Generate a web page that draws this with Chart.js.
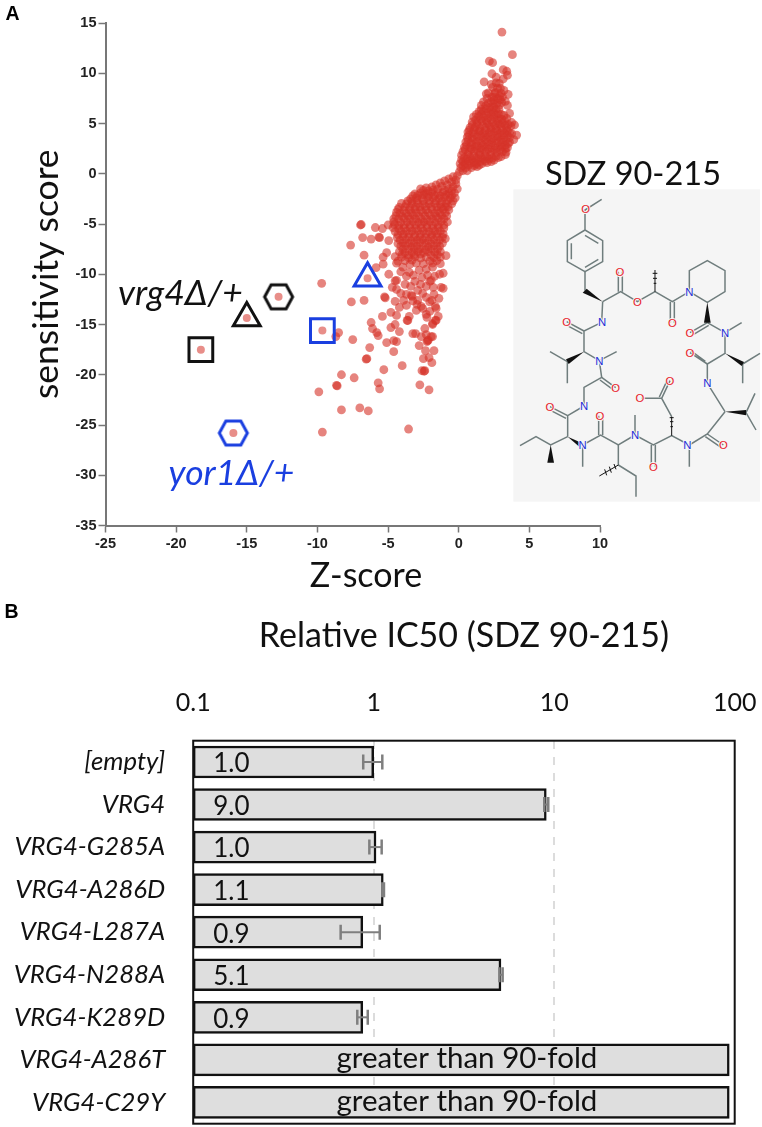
<!DOCTYPE html>
<html>
<head>
<meta charset="utf-8">
<script src="https://cdn.jsdelivr.net/npm/chart.js@4"></script>
<style>
  html, body { margin: 0; padding: 0; background: #fff; }
  #page { position: relative; width: 762px; height: 1127px; overflow: hidden; }
  canvas { position: absolute; left: 0; }
  #canvasA { top: 0; filter: blur(0.5px); }
  #canvasB { top: 600px; }
  .lbl { position: absolute; white-space: nowrap; transform: translate(-50%, -50%); font-family: Lato, sans-serif; color: #111; line-height: 1; }
  .panel { font-family: "Liberation Sans", sans-serif; font-weight: bold; font-size: 19.5px; color: #000; }
  svg { position: absolute; left: 500px; top: 150px; }
  svg text { font-family: "Liberation Sans", sans-serif; font-size: 34px; text-anchor: middle; dominant-baseline: central; paint-order: stroke; stroke: #f5f5f5; stroke-width: 6px; }
</style>
</head>
<body>
<div id="page">
  <canvas id="canvasA" width="762" height="600"></canvas>
  <canvas id="canvasB" width="762" height="527"></canvas>

  <div class="lbl panel" style="left:12.5px;top:14px">A</div>
  <div class="lbl panel" style="left:11.5px;top:612px">B</div>
  <div class="lbl" style="left:366px;top:574px;font-size:34px">Z-score</div>
  <div class="lbl" style="left:180.5px;top:292px;font-size:35.5px;font-style:italic">vrg4Δ/+</div>
  <div class="lbl" style="left:231.5px;top:472px;font-size:35.5px;font-style:italic;color:#1a3fe0">yor1Δ/+</div>
  <div class="lbl" style="left:633px;top:173px;font-size:32.5px">SDZ 90-215</div>

  <!-- structure inset -->
  <svg width="262" height="360" viewBox="0 0 786 1080">
    <rect x="40" y="118" width="740" height="937" fill="#f5f5f5"/>
    <g fill="none" stroke="#6f7d7d" stroke-width="4.5">
      <path d="M305 148L255 180L255 240L308 272L308 335L255 365L202 335L202 272L255 240M255 256L295 280M295 328L255 352M214 328L214 280"/>
      <path d="M255 365L255 422M308 455L362 425L412 455L465 425L517 455L568 425L568 362L622 332L675 362L675 425L622 457L568 425"/>
      <path d="M355 425L355 365M367 425L367 365M511 455L511 518M523 455L523 518"/>
      <path d="M622 518L570 548M626 526L576 556M622 518L675 548L725 518M675 548L675 610L622 642L622 700L675 785"/>
      <path d="M728 642L780 610M728 642L728 700M622 642L570 608M616 634L570 600"/>
      <path d="M738 788L765 730M738 788L768 840M675 785L622 852L568 885L568 950M622 852L670 885M616 860L664 893"/>
      <path d="M568 885L515 857L460 885L405 855L405 795M515 800L485 745L425 745M485 745L510 692M478 741L503 688"/>
      <path d="M454 885L454 950M466 885L466 950M405 855L355 885L302 855L248 885L248 950M296 855L296 797M308 855L308 797"/>
      <path d="M355 885L355 945L408 978L408 1040M203 860L203 797L252 768L252 712L305 682L298 632L350 605M298 632L252 605L252 543L305 517L308 455"/>
      <path d="M203 797L150 770M198 805L146 778M305 682L347 713M300 690L342 721M202 635L150 605M202 635L202 700M252 543L200 515M247 551L195 523"/>
      <path d="M203 860L152 885L108 860L60 887"/>
    </g>
    <g fill="#111">
      <polygon points="308,455 248,428 260,416"/>
      <polygon points="622,457 612,518 632,518"/>
      <polygon points="675,610 725,648 732,636"/>
      <polygon points="675,785 738,780 738,796"/>
      <polygon points="252,605 198,628 206,642"/>
      <polygon points="203,860 244,878 238,890"/>
      <polygon points="152,885 142,938 162,938"/>
    </g>
    <g stroke="#111" stroke-width="3">
      <path d="M465 425L465 360M459 385L471 385M458 370L472 370M461 400L469 400"/>
      <path d="M515 857L515 800M510 815L520 815M511 830L519 830M509 803L521 803"/>
      <path d="M355 945L298 978M342 942L348 958M328 950L334 968M314 958L320 976"/>
    </g>
    <g fill="#e8202a">
      <text x="257" y="178">O</text><text x="360" y="365">O</text><text x="412" y="455">O</text><text x="517" y="518">O</text>
      <text x="570" y="548">O</text><text x="570" y="608">O</text><text x="347" y="713">O</text><text x="200" y="515">O</text>
      <text x="510" y="692">O</text><text x="420" y="745">O</text><text x="150" y="770">O</text><text x="300" y="797">O</text>
      <text x="670" y="885">O</text><text x="460" y="950">O</text>
    </g>
    <g fill="#1f2fd8">
      <text x="306" y="517">N</text><text x="568" y="425">N</text><text x="675" y="548">N</text><text x="298" y="632">N</text>
      <text x="622" y="700">N</text><text x="252" y="768">N</text><text x="405" y="855">N</text><text x="248" y="885">N</text><text x="562" y="885">N</text>
    </g>
  </svg>
</div>

<script>
// panel A : sensitivity score vs Z-score, [z, score]
var zTicks = [-25, -20, -15, -10, -5, 0, 5, 10];
var scoreTicks = [15, 10, 5, 0, -5, -10, -15, -20, -25, -30, -35];

var upperCloud = [
  [3.06,14.1],[3.8,11.85],[2.17,11.2],[2.4,11.05],[3.15,10.35],[3.4,10.2],[2.35,9.95],[2.65,9.6],[3.15,9.45],[3.45,9.8],[1.8,9.15],[2.87,9.0],[2.75,8.5],[2.1,8.05],[3.0,8.0],[3.5,7.9],
  [2.5,7.65],[2.75,7.5],[3.1,7.65],[2.6,8.1],[2.3,7.2],[2.7,7.0],[3.05,7.1],[3.45,6.8],[3.6,6.0],[3.95,4.85],[4.1,3.85],[3.6,3.15],[3.35,2.15],
  [1.6,6.8],[1.9,6.75],[2.2,6.6],[2.5,6.65],[2.85,6.4],[1.45,6.2],[1.75,6.25],[2.1,6.1],[2.45,6.15],[2.8,5.95],[3.2,5.8],
  [1.05,5.65],[1.4,5.7],[1.75,5.6],[2.1,5.55],[2.5,5.6],[2.85,5.5],[3.25,5.3],[3.4,5.5],
  [0.95,5.15],[1.3,5.1],[1.65,5.2],[2.0,5.05],[2.4,5.1],[2.75,5.0],[3.1,5.05],[3.5,4.9],
  [0.8,4.6],[1.15,4.65],[1.5,4.55],[1.9,4.6],[2.25,4.6],[2.65,4.5],[3.0,4.6],[3.4,4.55],[3.7,4.75],
  [0.65,4.15],[1.0,4.1],[1.4,4.2],[1.75,4.05],[2.15,4.1],[2.5,4.15],[2.9,4.05],[3.25,4.1],[3.6,4.1],
  [0.6,3.65],[0.95,3.6],[1.3,3.7],[1.7,3.6],[2.05,3.65],[2.45,3.55],[2.8,3.65],[3.2,3.6],[3.6,3.6],
  [0.5,3.15],[0.85,3.1],[1.25,3.15],[1.6,3.05],[2.0,3.15],[2.35,3.1],[2.75,3.1],[3.1,3.15],[3.5,3.0],
  [0.4,2.65],[0.8,2.6],[1.15,2.65],[1.55,2.55],[1.9,2.65],[2.3,2.6],[2.7,2.55],[3.05,2.65],[3.3,2.5],
  [0.3,2.2],[0.7,2.15],[1.1,2.25],[1.5,2.1],[1.9,2.2],[2.3,2.15],[2.7,2.1],[3.1,2.2],
  [0.2,1.85],[0.65,1.9],[1.05,1.8],[1.45,1.9],[1.85,1.8],[2.25,1.9],[2.65,1.75],[3.0,1.7],
  [0.2,1.4],[0.55,1.45],[0.95,1.4],[1.35,1.5],[1.75,1.4],[2.15,1.45],[2.5,1.35],
  [0.1,1.0],[0.45,1.0],[0.85,1.05],[1.25,1.0],[1.65,1.0],[2.0,1.1],
  [0.15,0.6],[0.5,0.6],[0.9,0.6],[1.3,0.7],[0.05,0.2],[0.3,0.3],[0.6,0.3]
];

// second pass over the same body, the dots overlap until it reads solid
var upperFill = [
  [2.4,8.6],[2.95,8.5],[2.55,8.0],[3.2,8.3],[2.35,7.6],[2.9,7.75],[2.0,7.5],[2.5,7.3],[2.95,7.35],[1.75,7.15],[2.1,7.0],[2.45,6.95],[2.85,6.8],[1.95,7.95],[2.65,9.05],[2.3,8.9],[3.3,7.2],
  [3.75,4.0],[3.9,3.4],[3.45,2.6],[3.3,1.9],[3.75,5.1],
  [1.6,6.4],[1.95,6.45],[2.3,6.35],[2.65,6.4],[1.25,5.9],[1.6,5.95],[1.95,5.85],[2.3,5.9],[2.65,5.85],[3.0,5.9],
  [1.2,5.35],[1.55,5.4],[1.95,5.3],[2.3,5.35],[2.7,5.3],[3.05,5.4],[0.95,4.85],[1.3,4.9],[1.7,4.8],[2.15,4.85],[2.55,4.8],[2.9,4.9],[3.3,4.8],
  [0.75,4.35],[1.1,4.4],[1.5,4.3],[1.9,4.35],[2.3,4.4],[2.7,4.3],[3.1,4.35],[3.45,4.3],[0.7,3.85],[1.15,3.9],[1.55,3.8],[1.9,3.85],[2.3,3.9],[2.7,3.8],[3.05,3.85],[3.45,3.85],
  [0.65,3.35],[1.05,3.4],[1.45,3.3],[1.85,3.35],[2.25,3.4],[2.6,3.3],[3.0,3.35],[3.35,3.35],[0.55,2.85],[0.95,2.9],[1.35,2.8],[1.75,2.85],[2.15,2.9],[2.55,2.8],[2.95,2.85],[3.3,2.85],
  [0.45,2.4],[0.9,2.45],[1.3,2.35],[1.7,2.4],[2.1,2.45],[2.5,2.35],[2.9,2.4],[0.4,1.6],[0.8,1.65],[1.2,1.55],[1.6,1.6],[2.0,1.65],[2.4,1.55],[2.8,1.6],
  [0.3,1.2],[0.7,1.25],[1.1,1.15],[1.5,1.2],[1.9,1.25],[2.3,1.2],[0.3,0.8],[0.7,0.85],[1.1,0.8],[1.45,0.85]
];

var lowerCloud = [
  [-0.1,-0.2],[-0.4,-0.3],[-0.7,-0.5],[-0.2,-0.6],[-1.0,-0.7],[-0.5,-0.8],[-1.3,-0.9],[-0.2,-1.0],[-0.8,-1.1],[-1.6,-1.1],[-1.2,-1.25],[-0.4,-1.3],[-1.9,-1.3],[-2.3,-1.4],[-0.1,-1.5],[-0.7,-1.5],[-1.5,-1.55],[-2.7,-1.5],
  [-0.3,-1.9],[-0.7,-1.95],[-1.1,-1.85],[-1.5,-1.95],[-1.9,-1.85],[-2.3,-1.95],[-2.7,-1.9],[-3.1,-2.0],
  [-0.25,-2.4],[-0.6,-2.45],[-1.0,-2.35],[-1.4,-2.45],[-1.8,-2.4],[-2.2,-2.35],[-2.6,-2.45],[-3.0,-2.4],[-3.4,-2.5],
  [-0.5,-3.0],[-0.9,-2.95],[-1.3,-3.05],[-1.7,-2.95],[-2.1,-3.0],[-2.5,-3.05],[-2.9,-2.95],[-3.3,-3.0],[-3.7,-3.0],[-4.05,-2.95],
  [-0.7,-3.6],[-1.1,-3.55],[-1.5,-3.65],[-1.9,-3.55],[-2.3,-3.6],[-2.7,-3.65],[-3.1,-3.55],[-3.5,-3.6],[-3.9,-3.65],[-4.3,-3.55],
  [-0.85,-4.2],[-1.2,-4.15],[-1.6,-4.25],[-2.0,-4.15],[-2.4,-4.2],[-2.8,-4.25],[-3.2,-4.15],[-3.6,-4.2],[-4.0,-4.25],[-4.45,-4.2],
  [-0.8,-4.8],[-1.25,-4.75],[-1.65,-4.85],[-2.05,-4.75],[-2.45,-4.8],[-2.85,-4.85],[-3.25,-4.75],[-3.65,-4.8],[-4.1,-4.85],[-4.6,-4.8],
  [-1.05,-5.4],[-1.45,-5.35],[-1.85,-5.45],[-2.25,-5.35],[-2.65,-5.4],[-3.05,-5.45],[-3.45,-5.35],[-3.85,-5.4],[-4.25,-5.45],[-4.65,-5.35],
  [-1.1,-6.0],[-1.5,-5.95],[-1.9,-6.05],[-2.3,-5.95],[-2.7,-6.0],[-3.1,-6.05],[-3.5,-5.95],[-3.9,-6.0],[-4.3,-6.05],
  [-0.95,-6.45],[-1.35,-6.6],[-1.75,-6.55],[-2.15,-6.65],[-2.55,-6.55],[-2.95,-6.6],[-3.35,-6.65],[-3.75,-6.55],[-4.15,-6.6],
  [-1.35,-7.2],[-1.75,-7.15],[-2.15,-7.25],[-2.55,-7.15],[-2.95,-7.2],[-3.35,-7.25],[-3.75,-7.15],[-4.1,-7.2],
  [-1.3,-7.75],[-1.7,-7.8],[-2.15,-7.75],[-2.5,-7.85],[-2.9,-7.75],[-3.3,-7.8],[-3.8,-7.85],[-4.2,-7.75],
  [-0.9,-8.15],[-1.3,-8.3],[-1.75,-8.35],[-2.3,-8.3],[-2.7,-8.4],[-3.1,-8.25],[-3.55,-8.35],[-4.05,-8.3],[-4.5,-8.25],
  [-1.3,-8.95],[-1.85,-8.9],[-2.5,-8.95],[-3.0,-8.9],[-3.45,-9.0],[-4.4,-8.9],[-3.95,-9.3],[-3.5,-9.8],[-2.8,-9.6],[-1.85,-9.3],[-1.1,-9.9],[-2.3,-9.5],[-4.1,-9.75],
  [-0.5,-1.7],[-1.3,-2.2],[-2.05,-2.7],[-2.75,-3.3],[-1.55,-3.3],[-0.95,-3.3],[-3.45,-3.35],[-2.15,-3.9],[-1.35,-3.9],[-3.0,-3.9],[-3.75,-3.95],
  [-1.85,-4.5],[-2.65,-4.5],[-3.45,-4.5],[-4.25,-4.5],[-1.45,-5.1],[-2.25,-5.1],[-3.05,-5.1],[-3.85,-5.1],[-1.7,-5.7],[-2.5,-5.7],[-3.3,-5.7],[-4.1,-5.7],
  [-1.95,-6.3],[-2.75,-6.3],[-3.55,-6.3],[-1.55,-6.9],[-2.35,-6.9],[-3.15,-6.9],[-3.95,-6.9],[-1.95,-7.5],[-2.75,-7.5],[-3.55,-7.5]
];

var lowerFill = [
  [-1.0,-1.65],[-1.8,-1.6],[-2.15,-1.7],[-2.5,-1.65],[-0.5,-2.15],[-0.9,-2.1],[-1.7,-2.15],[-2.1,-2.2],[-2.5,-2.1],[-2.9,-2.15],[-3.25,-2.2],
  [-0.4,-2.7],[-0.8,-2.65],[-1.2,-2.75],[-1.6,-2.7],[-2.5,-2.7],[-2.95,-2.65],[-3.3,-2.75],[-3.6,-2.7],[-0.75,-3.3],[-1.25,-3.35],[-1.95,-3.3],[-2.35,-3.25],[-3.05,-3.3],[-3.8,-3.3],[-4.2,-3.35],
  [-0.95,-3.9],[-1.7,-3.95],[-2.55,-3.85],[-3.35,-3.9],[-4.15,-3.95],[-4.4,-3.85],[-1.05,-4.5],[-1.45,-4.45],[-2.25,-4.55],[-3.05,-4.5],[-3.85,-4.45],[-4.6,-4.5],
  [-1.05,-5.1],[-1.85,-5.15],[-2.65,-5.05],[-3.45,-5.1],[-4.25,-5.15],[-4.55,-5.05],[-1.3,-5.7],[-2.1,-5.75],[-2.9,-5.65],[-3.7,-5.7],[-4.5,-5.75],
  [-1.15,-6.3],[-1.55,-6.25],[-2.35,-6.35],[-3.15,-6.3],[-3.95,-6.25],[-4.35,-6.35],[-1.15,-6.9],[-1.95,-6.95],[-2.75,-6.85],[-3.55,-6.9],[-4.3,-6.95],
  [-1.5,-7.5],[-2.35,-7.55],[-3.15,-7.45],[-3.95,-7.5],[-1.5,-8.05],[-1.95,-8.1],[-2.7,-8.0],[-3.15,-8.05],[-3.55,-8.1],[-4.0,-8.0],[-1.55,-8.65],[-2.05,-8.7],[-3.3,-8.6],[-3.8,-8.65],[-4.3,-8.7]
];

var sparsePoints = [
  [-6.9,-5.05],[-6.95,-5.1],[-7.65,-7.1],[-6.8,-6.35],[-6.2,-6.5],[-5.9,-5.35],[-5.65,-6.3],[-5.6,-6.35],[-5.4,-5.45],[-5.0,-5.1],[-4.95,-6.65],[-6.7,-8.1],[-5.1,-7.85],[-5.35,-8.3],[-5.35,-9.0],[-5.85,-9.35],[-4.95,-10.0],
  [-9.7,-10.9],[-4.7,-11.3],[-4.4,-10.6],[-4.4,-11.5],[-3.1,-10.7],[-2.05,-10.7],[-1.25,-11.3],[-1.35,-10.0],[-4.5,-10.65],[-1.95,-10.6],[-1.1,-11.4],
  [-3.7,-10.2],[-3.2,-10.1],[-2.6,-10.3],[-2.2,-10.1],[-1.7,-10.2],[-3.8,-11.0],[-3.4,-11.2],[-2.7,-11.0],[-2.3,-11.2],[-1.8,-11.3],[-4.1,-11.9],[-3.7,-12.0],[-2.3,-12.3],[-1.75,-12.0],[-1.4,-12.4],[-3.0,-13.6],[-2.3,-14.0],[-1.45,-14.2],[-4.2,-13.3],[-1.9,-12.6],
  [-5.2,-12.35],[-5.25,-12.25],[-6.7,-12.6],[-7.6,-12.75],[-4.5,-12.7],[-3.7,-13.1],[-3.35,-12.1],[-3.3,-12.2],[-2.9,-11.6],[-2.55,-11.9],[-2.95,-13.0],[-2.05,-12.75],[-1.6,-13.4],[-2.55,-13.4],[-3.9,-12.6],[-3.25,-12.65],[-2.9,-12.6],[-2.65,-13.2],[-2.05,-13.7],[-1.65,-13.2],
  [-8.5,-15.8],[-8.7,-16.2],[-7.5,-16.5],[-6.2,-14.8],[-6.1,-15.4],[-5.8,-15.8],[-5.7,-16.1],[-5.4,-14.2],[-4.8,-13.8],[-4.4,-14.1],[-4.5,-15.0],[-4.8,-15.3],[-4.2,-15.7],[-5.1,-16.8],[-4.6,-16.6],[-4.4,-16.7],[-6.3,-17.3],[-4.6,-17.7],[-6.5,-18.4],[-6.55,-18.45],
  [-5.3,-19.5],[-4.0,-19.1],[-8.3,-20.0],[-7.4,-20.3],[-8.6,-21.1],[-8.65,-21.05],[-9.9,-21.7],[-5.7,-20.8],[-5.6,-21.4],[-2.75,-21.0],[-2.1,-21.5],[-2.4,-19.6],[-2.45,-19.65],[-2.6,-19.6],
  [-8.3,-23.5],[-7.0,-23.3],[-6.4,-23.6],[-9.65,-25.7],[-3.55,-25.4],
  [-3.25,-15.9],[-3.05,-15.9],[-2.8,-17.1],[-2.35,-17.6],[-1.75,-17.6],[-2.5,-18.4],[-2.1,-18.3],[-1.9,-18.8],[-2.2,-16.6],[-2.25,-16.7],[-2.15,-16.55],[-1.95,-16.2],[-2.4,-15.4],[-1.85,-15.0],[-1.65,-14.6],[-2.25,-14.3],[-3.5,-14.2],[-3.65,-14.6],[-2.65,-16.2],[-2.3,-16.0],[-1.85,-16.2],[-1.6,-14.6],[-1.85,-14.9],[-3.6,-14.6]
];

// the six strains picked out with a ring
var highlightPoints = [[-18.25,-17.5],[-15,-14.35],[-12.75,-12.25],[-9.65,-15.6],[-6.45,-10.4],[-15.95,-25.8]];
var highlightShapes = ['rect','triangle','hex','rect','triangle','hex'];
var highlightColors = ['#111','#111','#111','#1a3fe0','#1a3fe0','#1a3fe0'];

// panel B : relative IC50
var strains = ['[empty]','VRG4','VRG4-G285A','VRG4-A286D','VRG4-L287A','VRG4-N288A','VRG4-K289D','VRG4-A286T','VRG4-C29Y'];
var ic50 = [1.0, 9.04, 1.03, 1.13, 0.87, 5.07, 0.87, 93.3, 93.3];
var errLow = [0.875, 8.81, 0.946, 1.116, 0.656, 4.97, 0.811, null, null];
var errHigh = [1.116, 9.27, 1.107, 1.14, 1.08, 5.18, 0.927, null, null];
var barTexts = ['1.0','9.0','1.0','1.1','0.9','5.1','0.9','greater than 90-fold','greater than 90-fold'];
var ic50Ticks = [0.1, 1, 10, 100];

function toXY(p) { return { x: p[0], y: p[1] }; }

// hexagon ring, chart.js has no such point style
function hexImage(color) {
  var c = document.createElement('canvas');
  c.width = 36; c.height = 32;
  var g = c.getContext('2d');
  g.strokeStyle = color;
  g.lineWidth = 3;
  g.beginPath();
  g.moveTo(4, 16); g.lineTo(10.5, 4); g.lineTo(25.5, 4); g.lineTo(32, 16); g.lineTo(25.5, 28); g.lineTo(10.5, 28);
  g.closePath();
  g.stroke();
  return c;
}

var ringStyles = highlightShapes.map(function (s, i) {
  return s == 'hex' ? hexImage(highlightColors[i]) : s;
});

var axisGrey = '#777';

new Chart(document.getElementById('canvasA'), {
  type: 'scatter',
  data: {
    datasets: [{
      label: 'strains',
      data: upperCloud.concat(upperFill, lowerCloud, lowerFill, sparsePoints).map(toXY),
      backgroundColor: 'rgba(214,50,40,0.6)',
      borderWidth: 0,
      pointRadius: 4.4,
      order: 3
    }, {
      label: 'picked',
      data: highlightPoints.map(toXY),
      backgroundColor: 'rgba(214,50,40,0.55)',
      borderWidth: 0,
      pointRadius: 4,
      order: 2
    }, {
      label: 'rings',
      data: highlightPoints.map(toXY),
      pointStyle: ringStyles,
      backgroundColor: 'rgba(0,0,0,0)',
      borderColor: highlightColors,
      borderWidth: 3,
      pointRadius: highlightShapes.map(function (s) { return s == 'rect' ? 16.8 : 15.5; }),
      order: 1
    }]
  },
  options: {
    responsive: false,
    animation: false,
    layout: { padding: { top: 23, right: 162, left: 0, bottom: 0 } },
    plugins: { legend: { display: false }, tooltip: { enabled: false } },
    scales: {
      x: {
        type: 'linear', min: -25, max: 10,
        afterBuildTicks: function (s) { s.ticks = zTicks.map(function (v) { return { value: v }; }); },
        afterFit: function (s) { s.height = 74.5; },
        border: { color: axisGrey, width: 2 },
        grid: { drawOnChartArea: false, color: axisGrey, tickLength: 7, tickWidth: 1.5 },
        ticks: { color: '#222', font: { family: 'Liberation Sans', weight: 'bold', size: 14.5 }, padding: 3, maxRotation: 0, autoSkip: false }
      },
      y: {
        type: 'linear', min: -35, max: 15,
        afterBuildTicks: function (s) { s.ticks = scoreTicks.map(function (v) { return { value: v }; }); },
        afterFit: function (s) { s.width = 105.5; },
        border: { color: axisGrey, width: 2 },
        grid: { drawOnChartArea: false, color: axisGrey, tickLength: 7, tickWidth: 1.5 },
        ticks: { color: '#222', font: { family: 'Liberation Sans', weight: 'bold', size: 14.5 }, padding: 2, autoSkip: false },
        title: { display: true, text: 'sensitivity score', color: '#111', font: { family: 'Lato', size: 35.5 }, padding: { top: 25, bottom: 0 } }
      }
    }
  }
});

// frame round the plot
var plotFrame = {
  id: 'plotFrame',
  afterDatasetsDraw: function (chart) {
    var a = chart.chartArea, ctx = chart.ctx;
    ctx.save();
    ctx.strokeStyle = '#111';
    ctx.lineWidth = 2;
    ctx.strokeRect(a.left, a.top, a.right - a.left, a.bottom - a.top);
    ctx.restore();
  }
};

// error bars, drawn through the log scale
var errorBars = {
  id: 'errorBars',
  afterDatasetsDraw: function (chart) {
    var ctx = chart.ctx, sx = chart.scales.x, sy = chart.scales.y;
    ctx.save();
    ctx.strokeStyle = '#7f7f7f';
    errLow.forEach(function (lo, i) {
      if (lo == null) return;
      var x0 = sx.getPixelForValue(lo), x1 = sx.getPixelForValue(errHigh[i]), y = sy.getPixelForValue(i);
      ctx.lineWidth = 2;
      ctx.beginPath(); ctx.moveTo(x0, y); ctx.lineTo(x1, y); ctx.stroke();
      ctx.lineWidth = 2.5;
      ctx.beginPath();
      ctx.moveTo(x0, y - 7.5); ctx.lineTo(x0, y + 7.5);
      ctx.moveTo(x1, y - 7.5); ctx.lineTo(x1, y + 7.5);
      ctx.stroke();
    });
    ctx.restore();
  }
};

// text inside the bars
var barLabels = {
  id: 'barLabels',
  afterDatasetsDraw: function (chart) {
    var ctx = chart.ctx, sy = chart.scales.y, a = chart.chartArea;
    ctx.save();
    ctx.fillStyle = '#111';
    ctx.textBaseline = 'middle';
    barTexts.forEach(function (t, i) {
      var y = sy.getPixelForValue(i);
      if (t.length > 4) {
        ctx.font = '29.5px Lato';
        ctx.textAlign = 'center';
        ctx.fillText(t, (a.left + a.right) / 2 + 3, y - 1);
      } else {
        ctx.font = '26px Lato';
        ctx.textAlign = 'left';
        ctx.fillText(t, a.left + 20, y + 2);
      }
    });
    ctx.restore();
  }
};

new Chart(document.getElementById('canvasB'), {
  type: 'bar',
  data: {
    labels: strains,
    datasets: [{
      data: ic50,
      backgroundColor: '#dedede',
      borderColor: '#111',
      borderWidth: 2.5,
      borderSkipped: false,
      barThickness: 32
    }]
  },
  plugins: [errorBars, barLabels, plotFrame],
  options: {
    indexAxis: 'y',
    responsive: false,
    animation: false,
    layout: { padding: { top: 0, right: 27.3, left: 0, bottom: 3.3 } },
    plugins: { legend: { display: false }, tooltip: { enabled: false } },
    scales: {
      x: {
        type: 'logarithmic', position: 'top', min: 0.1, max: 100,
        afterBuildTicks: function (s) { s.ticks = ic50Ticks.map(function (v) { return { value: v }; }); },
        afterFit: function (s) { s.height = 140.7; s.paddingLeft = 0; s.paddingRight = 0; },
        border: { display: false, dash: [8, 8] },
        grid: {
          drawTicks: false,
          lineWidth: 2,
          color: function (c) { return (c.tick && (c.tick.value == 1 || c.tick.value == 10)) ? '#dcdcdc' : 'rgba(0,0,0,0)'; }
        },
        ticks: {
          color: '#111', font: { family: 'Lato', size: 25 }, padding: 23, maxRotation: 0, autoSkip: false,
          callback: function (v) { return String(v); }
        },
        title: { display: true, text: 'Relative IC50 (SDZ 90-215)', color: '#111', font: { family: 'Lato', size: 34 }, padding: { top: 16, bottom: 0 } }
      },
      y: {
        afterFit: function (s) { s.width = 193.2; s.paddingTop = 0; s.paddingBottom = 0; },
        border: { display: false },
        grid: { display: false },
        ticks: { color: '#111', font: { family: 'Lato', style: 'italic', size: 25.7 }, padding: 20, autoSkip: false }
      }
    }
  }
});
</script>
</body>
</html>
